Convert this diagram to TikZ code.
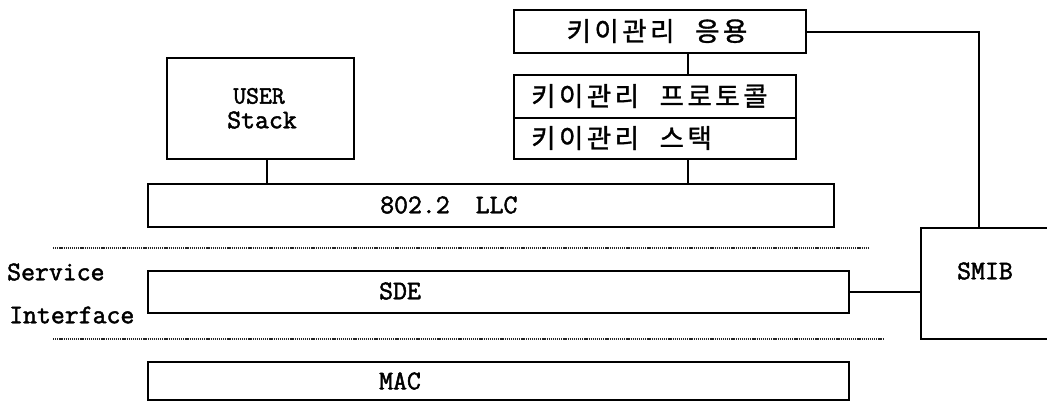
\documentclass[tikz,border=0pt]{standalone}
\usepackage{fontspec}
\newfontfamily\kr{Noto Sans CJK KR}[LetterSpace=13,WordSpace=2.2,FakeBold=1.2]
\newfontfamily\lat{Latin Modern Mono}[FakeBold=1.8]
\begin{document}
\begin{tikzpicture}[x=1pt,y=-1pt,
  box/.style={draw, line width=2.1pt, inner sep=0pt, anchor=north west},
  lat/.style={font=\fontsize{27}{22}\selectfont\lat, inner sep=0pt},
  kor/.style={font=\fontsize{26.5}{26}\selectfont\kr, inner sep=0pt},
  conn/.style={line width=2pt},
  dots/.style={line width=1.5pt, dash pattern=on 1.2pt off 0.9pt, black!85}]
\useasboundingbox (0,0) rectangle (1047,405);
% boxes
\node[box, minimum width=292pt, minimum height=43pt] (app) at (513,9) {};
\node[box, minimum width=282pt, minimum height=43pt] (proto) at (513,74) {};
\node[box, minimum width=282pt, minimum height=41pt] (stack) at (513,117) {};
\node[box, minimum width=187pt, minimum height=101pt] (user) at (166,57) {};
\node[box, minimum width=686pt, minimum height=43pt] (llc) at (147,183) {};
\node[box, minimum width=701pt, minimum height=42pt] (sde) at (147,270) {};
\node[box, minimum width=701pt, minimum height=38pt] (mac) at (147,361) {};
\node[box, minimum width=135pt, minimum height=111pt] (smib) at (920,227) {};
% texts
\node[kor] (tapp) at (657,31) {키이관리 응용};
\node[kor, anchor=west] (tproto) at (531,96) {키이관리 프로토콜};
\node[kor, anchor=west] (tstack) at (531,138) {키이관리 스택};
\node[lat, font=\fontsize{25}{22}\selectfont\lat] (tuser) at (259,96) {USER};
\node[lat] (tstk) at (262,120) {Stack};
\node[lat, anchor=west] (tllc) at (380,205) {802.2\hspace{26pt}LLC};
\node[lat] (tsde) at (400,291) {SDE};
\node[lat] (tmac) at (400,381) {MAC};
\node[lat] (tsmib) at (985,271) {SMIB};
\node[lat, anchor=west] (tserv) at (7,272) {Service};
\node[lat, anchor=west] (tint) at (9,315) {Interface};
% connector x positions
\coordinate (kx) at (688,0);
\coordinate (ux) at (267,0);
\coordinate (sx) at (979,0);
\draw[conn] (app.south -| kx) -- (proto.north -| kx);
\draw[conn] (stack.south -| kx) -- (llc.north -| kx);
\draw[conn] (user.south -| ux) -- (llc.north -| ux);
\draw[conn] (app.east) -| (smib.north -| sx);
\draw[conn] (sde.east) -- (sde.east -| smib.west);
% dotted separators
\coordinate (d1a) at (53,248); \coordinate (d1b) at (868,248);
\coordinate (d2a) at (53,339); \coordinate (d2b) at (883,339);
\draw[dots] (d1a) -- (d1b);
\draw[dots] (d2a) -- (d2b);
\end{tikzpicture}
\end{document}
